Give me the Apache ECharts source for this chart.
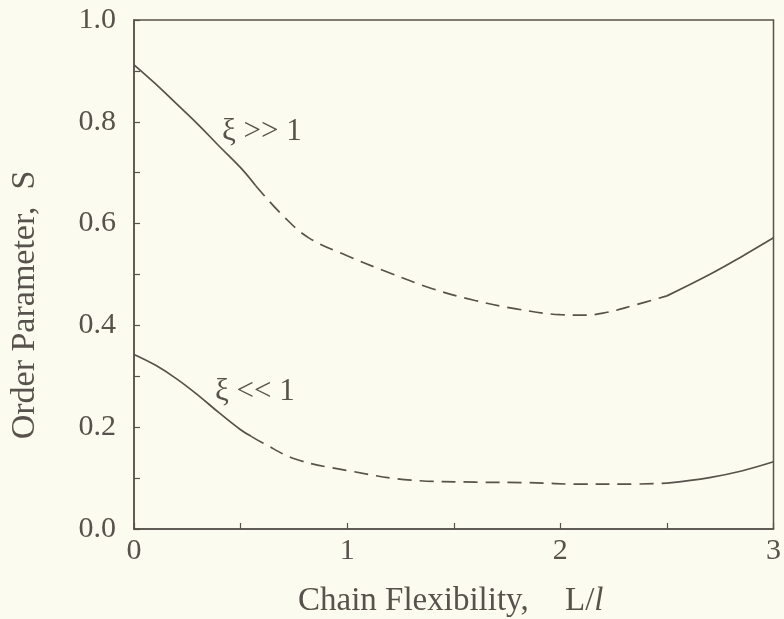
<!DOCTYPE html>
<html>
<head>
<meta charset="utf-8">
<script src="https://cdn.jsdelivr.net/npm/echarts@6/dist/echarts.min.js"></script>
<style>
html,body{margin:0;padding:0;background:#fbfbef;}
#c{width:784px;height:619px;}
</style>
</head>
<body>
<div id="c"></div>
<script>
// Upper curve (xi >> 1)
const upperSolid1 = [[0.0,0.912],[0.1,0.875],[0.2,0.835],[0.3,0.795],[0.4,0.752],[0.5,0.710],[0.57,0.675]];
const upperDashed = [[0.57,0.675],[0.7,0.615],[0.82,0.572],[1.0,0.537],[1.2,0.503],[1.4,0.472],[1.6,0.449],[1.8,0.432],[2.0,0.421],[2.1,0.420],[2.2,0.424],[2.35,0.440],[2.5,0.458]];
const upperSolid2 = [[2.5,0.458],[2.7,0.500],[2.85,0.535],[3.0,0.572]];
// Lower curve (xi << 1)
const lowerSolid1 = [[0.0,0.343],[0.1,0.322],[0.2,0.295],[0.3,0.263],[0.4,0.228],[0.5,0.195],[0.55,0.182]];
const lowerDashed = [[0.55,0.182],[0.6,0.170],[0.76,0.137],[1.0,0.115],[1.3,0.096],[1.6,0.092],[1.85,0.091],[2.1,0.088],[2.3,0.088],[2.5,0.090]];
const lowerSolid2 = [[2.5,0.090],[2.7,0.101],[2.85,0.114],[3.0,0.132]];

const curveLabels = ['ξ >> 1', 'ξ << 1'];
const xTitleMain = 'Chain Flexibility,';
const xTitleVar = ['L/', 'l'];
const yTitle = 'Order Parameter,  S';

const INK = '#57524b';
const FONT = '"Liberation Serif", "DejaVu Serif", serif';

function line(data, dashed) {
  return {
    type: 'line', data: data, smooth: 0.4, symbol: 'none',
    lineStyle: {color: INK, width: 1.7, type: dashed ? [14, 8] : 'solid'},
    silent: true, animation: false
  };
}

const chart = echarts.init(document.getElementById('c'));
chart.setOption({
  backgroundColor: '#fbfbef',
  animation: false,
  grid: {left: 134, right: 8, top: 20, bottom: 90, show: true, borderColor: INK, borderWidth: 1.5, backgroundColor: 'transparent'},
  xAxis: {
    type: 'value', min: 0, max: 3, interval: 0.5,
    axisLine: {lineStyle: {color: INK, width: 1.5}},
    axisTick: {inside: true, length: 6, lineStyle: {color: INK, width: 1.2}},
    splitLine: {show: false},
    axisLabel: {
      color: INK, fontFamily: FONT, fontSize: 30, margin: 7,
      formatter: v => (Math.abs(v - Math.round(v)) < 1e-6 ? String(Math.round(v)) : '')
    }
  },
  yAxis: {
    type: 'value', min: 0, max: 1, interval: 0.1,
    axisLine: {lineStyle: {color: INK, width: 1.5}},
    axisTick: {inside: true, length: 6, lineStyle: {color: INK, width: 1.2}},
    splitLine: {show: false},
    axisLabel: {
      color: INK, fontFamily: FONT, fontSize: 30, margin: 18,
      formatter: v => (Math.round(v * 10) % 2 === 0 ? v.toFixed(1) : '')
    }
  },
  series: [
    line(upperSolid1, false), line(upperDashed, true), line(upperSolid2, false),
    line(lowerSolid1, false), line(lowerDashed, true), line(lowerSolid2, false)
  ],
  graphic: [
    {type: 'text', left: 222, top: 116, style: {text: curveLabels[0], fill: INK, font: '31px ' + FONT}},
    {type: 'text', left: 215, top: 376, style: {text: curveLabels[1], fill: INK, font: '31px ' + FONT}},
    {type: 'text', left: 298, top: 585, style: {text: xTitleMain, fill: INK, font: '33px ' + FONT}},
    {type: 'text', left: 565, top: 585, style: {
      text: '{n|' + xTitleVar[0] + '}{i|' + xTitleVar[1] + '}',
      rich: {
        n: {fill: INK, fontFamily: FONT, fontSize: 33},
        i: {fill: INK, fontFamily: FONT, fontSize: 33, fontStyle: 'italic'}
      }
    }},
    {type: 'text', x: 25, y: 305, rotation: Math.PI / 2,
      style: {text: yTitle, fill: INK, font: '34px ' + FONT, align: 'center', verticalAlign: 'middle'}}
  ]
});
</script>
</body>
</html>
